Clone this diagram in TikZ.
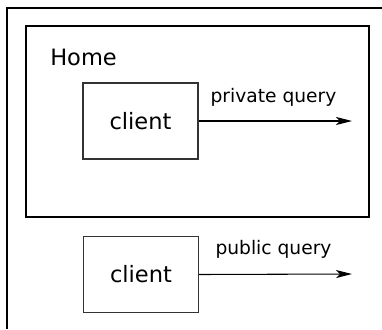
\documentclass[tikz,border=0pt]{standalone}
\usepackage{fontspec}
\setmainfont{DejaVu Sans}
\usetikzlibrary{arrows.meta}
\begin{document}
\begin{tikzpicture}[x=0.75pt,y=-0.75pt,
  frame/.style={draw=black,line width=1.5pt},
  clientbox/.style={draw=black!80,line width=0.9pt,minimum width=115*0.75pt,minimum height=76*0.75pt,inner sep=0pt,font=\fontsize{16.9pt}{20pt}\selectfont},
  flow/.style={draw=black,line width=0.8pt,-{Stealth[length=12pt,width=6pt,inset=3pt]}},
  lbl/.style={font=\fontsize{14pt}{16pt}\selectfont,inner sep=0pt}]
\useasboundingbox (0,0) rectangle (382,329);
\draw[frame] (7,329) -- (7,8) -- (383,8);
\node[frame,draw,minimum width=343*0.75pt,minimum height=191*0.75pt,inner sep=0pt] (home) at (197.5,121.5) {};
\node[font=\fontsize{16.9pt}{20pt}\selectfont,inner sep=0pt,anchor=base west] (homelbl) at (50,65) {Home};
\node[clientbox] (c1) at (140.5,121) {client};
\node[clientbox] (c2) at (141,274.5) {client};
\coordinate (e1) at (352,121);
\coordinate (e2) at (352,274);
\draw[flow] (c1.east) -- (e1);
\draw[flow] (c2.east) -- (e2);
\node[lbl,anchor=base] (l1) at (273.5,102) {private query};
\node[lbl,anchor=base] (l2) at (273.5,254) {public query};
\end{tikzpicture}
\end{document}
